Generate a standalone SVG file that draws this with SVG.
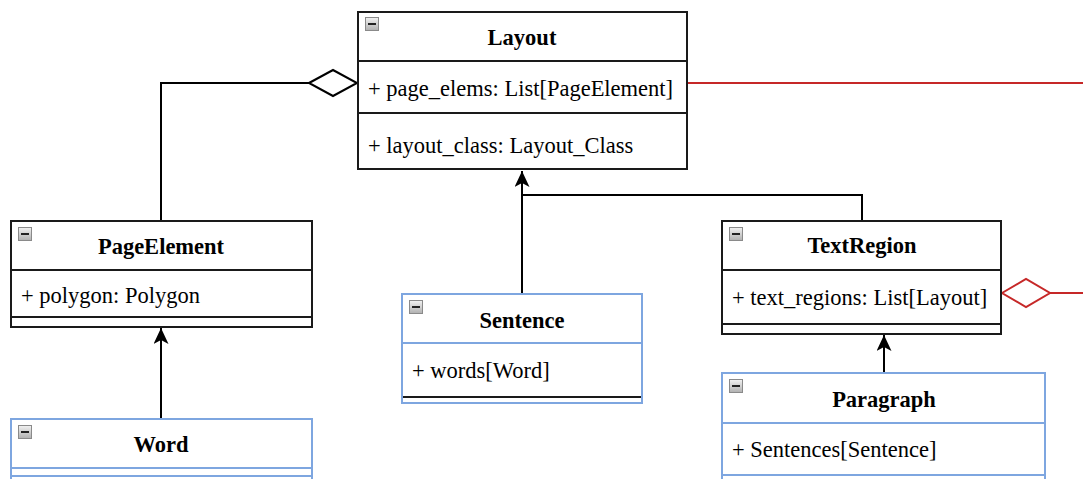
<svg xmlns="http://www.w3.org/2000/svg" width="1083" height="479" viewBox="0 0 1083 479">
<style>
.box{fill:#ffffff;stroke:#1a1a1a;stroke-width:2}
.bbox{fill:#ffffff;stroke:#7ea6e0;stroke-width:2}
.sep{stroke:#1a1a1a;stroke-width:2}
.bsep{stroke:#7ea6e0;stroke-width:2}
.title{font-family:"Liberation Serif","Times New Roman",serif;font-size:22.5px;font-weight:bold;fill:#000;text-anchor:middle}
.attr{font-family:"Liberation Serif","Times New Roman",serif;font-size:22.5px;fill:#000}
.conn{fill:none;stroke:#000;stroke-width:2}
.red{fill:none;stroke:#c62828;stroke-width:2}
</style>
<defs>
<linearGradient id="ig" x1="0" y1="0" x2="0" y2="1">
<stop offset="0" stop-color="#f2f2f2"/>
<stop offset="1" stop-color="#b0b0b0"/>
</linearGradient>
<g id="icon">
<rect x="0.5" y="0.5" width="13" height="13" fill="url(#ig)" stroke="#8a8a8a" stroke-width="1"/>
<line x1="3" y1="7" x2="11" y2="7" stroke="#222" stroke-width="2"/>
</g>
<marker id="arr" markerUnits="userSpaceOnUse" markerWidth="18" markerHeight="16" refX="16" refY="7.5" orient="auto" viewBox="0 0 18 16">
<path d="M0,0 L16,7.5 L0,15 L4,7.5 Z" fill="#000"/>
</marker>
</defs>

<g id="connectors">
<path class="conn" d="M161,221 V83 H309"/>
<polygon points="309,83 333,70 357,83 333,96" fill="#fff" stroke="#000" stroke-width="2"/>
<path class="red" d="M687,83 H1095"/>
<path class="red" d="M1095,293 H1050"/>
<polygon points="1002,293 1026,279 1050,293 1026,307" fill="#fff" stroke="#c62828" stroke-width="2"/>
<path class="conn" d="M522,294 V171" marker-end="url(#arr)"/>
<path class="conn" d="M862,221 V195 H522"/>
<path class="conn" d="M161,419 V328" marker-end="url(#arr)"/>
<path class="conn" d="M884,373 V335" marker-end="url(#arr)"/>
</g>

<g id="Layout">
<rect class="box" x="358" y="12" width="329" height="157"/>
<line class="sep" x1="358" y1="61" x2="687" y2="61"/>
<line class="sep" x1="358" y1="113" x2="687" y2="113"/>
<use href="#icon" x="365" y="17"/>
<text class="title" x="522" y="45">Layout</text>
<text class="attr" x="368" y="96">+ page_elems: List[PageElement]</text>
<text class="attr" x="368" y="153">+ layout_class: Layout_Class</text>
</g>

<g id="PageElement">
<rect class="box" x="11" y="221" width="301" height="106"/>
<line class="sep" x1="11" y1="270" x2="312" y2="270"/>
<line class="sep" x1="11" y1="317" x2="312" y2="317"/>
<use href="#icon" x="18" y="227"/>
<text class="title" x="161" y="254">PageElement</text>
<text class="attr" x="21" y="303">+ polygon: Polygon</text>
</g>

<g id="Sentence">
<rect class="bbox" x="402" y="294" width="240" height="109"/>
<line class="bsep" x1="402" y1="343" x2="642" y2="343"/>
<line class="sep" x1="403" y1="397" x2="641" y2="397"/>
<use href="#icon" x="409" y="300"/>
<text class="title" x="522" y="328">Sentence</text>
<text class="attr" x="412" y="378">+ words[Word]</text>
</g>

<g id="TextRegion">
<rect class="box" x="722" y="221" width="279" height="113"/>
<line class="sep" x1="722" y1="270" x2="1001" y2="270"/>
<line class="sep" x1="722" y1="324" x2="1001" y2="324"/>
<use href="#icon" x="729" y="227"/>
<text class="title" x="862" y="253">TextRegion</text>
<text class="attr" x="732" y="305">+ text_regions: List[Layout]</text>
</g>

<g id="Paragraph">
<rect class="bbox" x="722" y="373" width="323" height="130"/>
<line class="bsep" x1="722" y1="423" x2="1045" y2="423"/>
<line class="bsep" x1="722" y1="475" x2="1045" y2="475"/>
<use href="#icon" x="729" y="379"/>
<text class="title" x="884" y="407">Paragraph</text>
<text class="attr" x="732" y="457">+ Sentences[Sentence]</text>
</g>

<g id="Word">
<rect class="bbox" x="11" y="419" width="301" height="90"/>
<line class="bsep" x1="11" y1="468" x2="312" y2="468"/>
<line class="bsep" x1="11" y1="476" x2="312" y2="476"/>
<use href="#icon" x="18" y="425"/>
<text class="title" x="161" y="452">Word</text>
</g>
</svg>
